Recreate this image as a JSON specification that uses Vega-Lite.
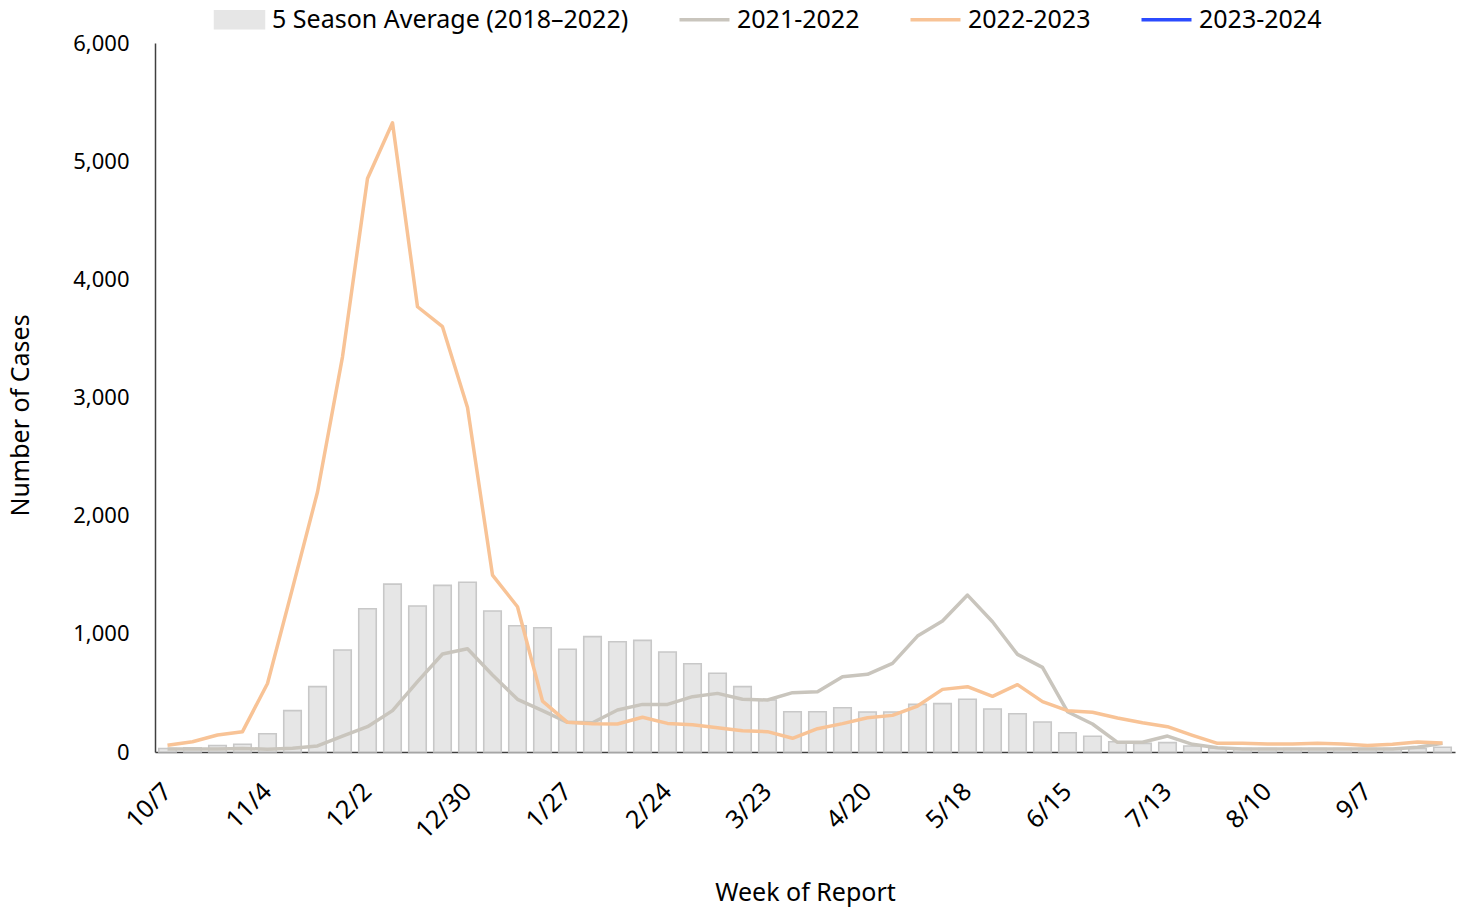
{
  "$schema": "https://vega.github.io/schema/vega-lite/v6.json",
  "width": 1300,
  "height": 709,
  "autosize": {"type": "none"},
  "padding": {"left": 155, "top": 43, "right": 10, "bottom": 159},
  "background": "white",
  "config": {
    "view": {"stroke": null},
    "font": "Noto Sans",
    "axis": {"domainColor": "#404040", "domainWidth": 1.5, "labelColor": "#000000", "titleColor": "#000000", "labelFont": "Noto Sans", "titleFont": "Noto Sans", "labelFontSize": 22, "titleFontSize": 25, "titleFontWeight": "normal", "grid": false, "ticks": false}
  },
  "datasets": {
    "avg": [
      {"week":"10/7","series":"5 Season Average (2018–2022)","cases":30},
      {"week":"10/14","series":"5 Season Average (2018–2022)","cases":36},
      {"week":"10/21","series":"5 Season Average (2018–2022)","cases":55},
      {"week":"10/28","series":"5 Season Average (2018–2022)","cases":65},
      {"week":"11/4","series":"5 Season Average (2018–2022)","cases":155},
      {"week":"11/11","series":"5 Season Average (2018–2022)","cases":350},
      {"week":"11/18","series":"5 Season Average (2018–2022)","cases":553},
      {"week":"11/25","series":"5 Season Average (2018–2022)","cases":863},
      {"week":"12/2","series":"5 Season Average (2018–2022)","cases":1212},
      {"week":"12/9","series":"5 Season Average (2018–2022)","cases":1421},
      {"week":"12/16","series":"5 Season Average (2018–2022)","cases":1235},
      {"week":"12/23","series":"5 Season Average (2018–2022)","cases":1410},
      {"week":"12/30","series":"5 Season Average (2018–2022)","cases":1436},
      {"week":"1/6","series":"5 Season Average (2018–2022)","cases":1193},
      {"week":"1/13","series":"5 Season Average (2018–2022)","cases":1069},
      {"week":"1/20","series":"5 Season Average (2018–2022)","cases":1052},
      {"week":"1/27","series":"5 Season Average (2018–2022)","cases":869},
      {"week":"2/3","series":"5 Season Average (2018–2022)","cases":976},
      {"week":"2/10","series":"5 Season Average (2018–2022)","cases":933},
      {"week":"2/17","series":"5 Season Average (2018–2022)","cases":945},
      {"week":"2/24","series":"5 Season Average (2018–2022)","cases":846},
      {"week":"3/2","series":"5 Season Average (2018–2022)","cases":747},
      {"week":"3/9","series":"5 Season Average (2018–2022)","cases":666},
      {"week":"3/16","series":"5 Season Average (2018–2022)","cases":553},
      {"week":"3/23","series":"5 Season Average (2018–2022)","cases":440},
      {"week":"3/30","series":"5 Season Average (2018–2022)","cases":341},
      {"week":"4/6","series":"5 Season Average (2018–2022)","cases":341},
      {"week":"4/13","series":"5 Season Average (2018–2022)","cases":375},
      {"week":"4/20","series":"5 Season Average (2018–2022)","cases":338},
      {"week":"4/27","series":"5 Season Average (2018–2022)","cases":338},
      {"week":"5/4","series":"5 Season Average (2018–2022)","cases":403},
      {"week":"5/11","series":"5 Season Average (2018–2022)","cases":409},
      {"week":"5/18","series":"5 Season Average (2018–2022)","cases":446},
      {"week":"5/25","series":"5 Season Average (2018–2022)","cases":364},
      {"week":"6/1","series":"5 Season Average (2018–2022)","cases":324},
      {"week":"6/8","series":"5 Season Average (2018–2022)","cases":254},
      {"week":"6/15","series":"5 Season Average (2018–2022)","cases":163},
      {"week":"6/22","series":"5 Season Average (2018–2022)","cases":133},
      {"week":"6/29","series":"5 Season Average (2018–2022)","cases":87},
      {"week":"7/6","series":"5 Season Average (2018–2022)","cases":73},
      {"week":"7/13","series":"5 Season Average (2018–2022)","cases":79},
      {"week":"7/20","series":"5 Season Average (2018–2022)","cases":51},
      {"week":"7/27","series":"5 Season Average (2018–2022)","cases":34},
      {"week":"8/3","series":"5 Season Average (2018–2022)","cases":30},
      {"week":"8/10","series":"5 Season Average (2018–2022)","cases":30},
      {"week":"8/17","series":"5 Season Average (2018–2022)","cases":30},
      {"week":"8/24","series":"5 Season Average (2018–2022)","cases":30},
      {"week":"8/31","series":"5 Season Average (2018–2022)","cases":30},
      {"week":"9/7","series":"5 Season Average (2018–2022)","cases":30},
      {"week":"9/14","series":"5 Season Average (2018–2022)","cases":30},
      {"week":"9/21","series":"5 Season Average (2018–2022)","cases":30},
      {"week":"9/28","series":"5 Season Average (2018–2022)","cases":40}
    ],
    "lines": [
      {"week":"10/7","series":"2021-2022","cases":25},
      {"week":"10/14","series":"2021-2022","cases":25},
      {"week":"10/21","series":"2021-2022","cases":25},
      {"week":"10/28","series":"2021-2022","cases":30},
      {"week":"11/4","series":"2021-2022","cases":23},
      {"week":"11/11","series":"2021-2022","cases":31},
      {"week":"11/18","series":"2021-2022","cases":51},
      {"week":"11/25","series":"2021-2022","cases":135},
      {"week":"12/2","series":"2021-2022","cases":214},
      {"week":"12/9","series":"2021-2022","cases":350},
      {"week":"12/16","series":"2021-2022","cases":595},
      {"week":"12/23","series":"2021-2022","cases":829},
      {"week":"12/30","series":"2021-2022","cases":874},
      {"week":"1/6","series":"2021-2022","cases":651},
      {"week":"1/13","series":"2021-2022","cases":446},
      {"week":"1/20","series":"2021-2022","cases":350},
      {"week":"1/27","series":"2021-2022","cases":251},
      {"week":"2/3","series":"2021-2022","cases":248},
      {"week":"2/10","series":"2021-2022","cases":355},
      {"week":"2/17","series":"2021-2022","cases":403},
      {"week":"2/24","series":"2021-2022","cases":403},
      {"week":"3/2","series":"2021-2022","cases":468},
      {"week":"3/9","series":"2021-2022","cases":496},
      {"week":"3/16","series":"2021-2022","cases":446},
      {"week":"3/23","series":"2021-2022","cases":440},
      {"week":"3/30","series":"2021-2022","cases":502},
      {"week":"4/6","series":"2021-2022","cases":510},
      {"week":"4/13","series":"2021-2022","cases":637},
      {"week":"4/20","series":"2021-2022","cases":657},
      {"week":"4/27","series":"2021-2022","cases":750},
      {"week":"5/4","series":"2021-2022","cases":981},
      {"week":"5/11","series":"2021-2022","cases":1108},
      {"week":"5/18","series":"2021-2022","cases":1328},
      {"week":"5/25","series":"2021-2022","cases":1102},
      {"week":"6/1","series":"2021-2022","cases":826},
      {"week":"6/8","series":"2021-2022","cases":716},
      {"week":"6/15","series":"2021-2022","cases":341},
      {"week":"6/22","series":"2021-2022","cases":237},
      {"week":"6/29","series":"2021-2022","cases":82},
      {"week":"7/6","series":"2021-2022","cases":82},
      {"week":"7/13","series":"2021-2022","cases":135},
      {"week":"7/20","series":"2021-2022","cases":65},
      {"week":"7/27","series":"2021-2022","cases":36},
      {"week":"8/3","series":"2021-2022","cases":25},
      {"week":"8/10","series":"2021-2022","cases":25},
      {"week":"8/17","series":"2021-2022","cases":25},
      {"week":"8/24","series":"2021-2022","cases":25},
      {"week":"8/31","series":"2021-2022","cases":25},
      {"week":"9/7","series":"2021-2022","cases":25},
      {"week":"9/14","series":"2021-2022","cases":25},
      {"week":"9/21","series":"2021-2022","cases":40},
      {"week":"9/28","series":"2021-2022","cases":73},
      {"week":"10/7","series":"2022-2023","cases":57},
      {"week":"10/14","series":"2022-2023","cases":87},
      {"week":"10/21","series":"2022-2023","cases":144},
      {"week":"10/28","series":"2022-2023","cases":172},
      {"week":"11/4","series":"2022-2023","cases":580},
      {"week":"11/11","series":"2022-2023","cases":1385},
      {"week":"11/18","series":"2022-2023","cases":2200},
      {"week":"11/25","series":"2022-2023","cases":3344},
      {"week":"12/2","series":"2022-2023","cases":4854},
      {"week":"12/9","series":"2022-2023","cases":5325},
      {"week":"12/16","series":"2022-2023","cases":3768},
      {"week":"12/23","series":"2022-2023","cases":3599},
      {"week":"12/30","series":"2022-2023","cases":2916},
      {"week":"1/6","series":"2022-2023","cases":1497},
      {"week":"1/13","series":"2022-2023","cases":1229},
      {"week":"1/20","series":"2022-2023","cases":431},
      {"week":"1/27","series":"2022-2023","cases":251},
      {"week":"2/3","series":"2022-2023","cases":240},
      {"week":"2/10","series":"2022-2023","cases":237},
      {"week":"2/17","series":"2022-2023","cases":294},
      {"week":"2/24","series":"2022-2023","cases":242},
      {"week":"3/2","series":"2022-2023","cases":231},
      {"week":"3/9","series":"2022-2023","cases":206},
      {"week":"3/16","series":"2022-2023","cases":180},
      {"week":"3/23","series":"2022-2023","cases":172},
      {"week":"3/30","series":"2022-2023","cases":116},
      {"week":"4/6","series":"2022-2023","cases":197},
      {"week":"4/13","series":"2022-2023","cases":240},
      {"week":"4/20","series":"2022-2023","cases":290},
      {"week":"4/27","series":"2022-2023","cases":310},
      {"week":"5/4","series":"2022-2023","cases":389},
      {"week":"5/11","series":"2022-2023","cases":530},
      {"week":"5/18","series":"2022-2023","cases":553},
      {"week":"5/25","series":"2022-2023","cases":471},
      {"week":"6/1","series":"2022-2023","cases":570},
      {"week":"6/8","series":"2022-2023","cases":426},
      {"week":"6/15","series":"2022-2023","cases":350},
      {"week":"6/22","series":"2022-2023","cases":336},
      {"week":"6/29","series":"2022-2023","cases":288},
      {"week":"7/6","series":"2022-2023","cases":248},
      {"week":"7/13","series":"2022-2023","cases":214},
      {"week":"7/20","series":"2022-2023","cases":141},
      {"week":"7/27","series":"2022-2023","cases":73},
      {"week":"8/3","series":"2022-2023","cases":73},
      {"week":"8/10","series":"2022-2023","cases":68},
      {"week":"8/17","series":"2022-2023","cases":68},
      {"week":"8/24","series":"2022-2023","cases":73},
      {"week":"8/31","series":"2022-2023","cases":68},
      {"week":"9/7","series":"2022-2023","cases":54},
      {"week":"9/14","series":"2022-2023","cases":65},
      {"week":"9/21","series":"2022-2023","cases":85},
      {"week":"9/28","series":"2022-2023","cases":76}
    ]
  },
  "encoding": {
    "x": {
      "field": "week", "type": "ordinal",
      "scale": {
        "domain": ["10/7","10/14","10/21","10/28","11/4","11/11","11/18","11/25","12/2","12/9","12/16","12/23","12/30","1/6","1/13","1/20","1/27","2/3","2/10","2/17","2/24","3/2","3/9","3/16","3/23","3/30","4/6","4/13","4/20","4/27","5/4","5/11","5/18","5/25","6/1","6/8","6/15","6/22","6/29","7/6","7/13","7/20","7/27","8/3","8/10","8/17","8/24","8/31","9/7","9/14","9/21","9/28"],
        "paddingInner": 0.3, "paddingOuter": 0.15
      },
      "axis": {
        "title": "Week of Report",
        "values": ["10/7","11/4","12/2","12/30","1/27","2/24","3/23","4/20","5/18","6/15","7/13","8/10","9/7"],
        "labelAngle": -45, "labelAlign": "right", "labelBaseline": "middle", "labelPadding": 35, "labelFontSize": 25,
        "titleY": 140, "titleBaseline": "middle"
      }
    },
    "y": {
      "field": "cases", "type": "quantitative",
      "scale": {"domain": [0, 6000], "nice": false},
      "axis": {
        "title": "Number of Cases",
        "values": [0, 1000, 2000, 3000, 4000, 5000, 6000],
        "format": ",.0f",
        "labelPadding": 26,
        "titleX": -135, "titleY": 372, "titleAngle": -90, "titleBaseline": "middle", "titleAlign": "center"
      }
    },
    "color": {
      "field": "series", "type": "nominal",
      "scale": {
        "domain": ["5 Season Average (2018–2022)", "2021-2022", "2022-2023", "2023-2024"],
        "range": ["#E6E6E6", "#C9C5BD", "#F8C396", "#2B4BFF"]
      },
      "legend": {
        "title": null,
        "orient": "none",
        "direction": "horizontal",
        "legendX": 72,
        "legendY": -36,
        "labelFontSize": 25,
        "labelFont": "Noto Sans",
        "labelColor": "#000000",
        "labelLimit": 0,
        "labelOffset": 20,
        "columnPadding": 43,
        "symbolSize": 2500,
        "symbolStrokeWidth": 3.5,
        "encode": {
          "symbols": {
            "update": {
              "shape": {"signal": "datum.value === '5 Season Average (2018–2022)' ? 'M-1,-0.36H1V0.36H-1Z' : 'stroke'"},
              "fill": {"signal": "datum.value === '5 Season Average (2018–2022)' ? '#E6E6E6' : 'transparent'"},
              "stroke": {"signal": "datum.value === '5 Season Average (2018–2022)' ? '#CCCCCC' : (datum.value === '2021-2022' ? '#C9C5BD' : (datum.value === '2022-2023' ? '#F8C396' : '#2B4BFF'))"},
              "strokeWidth": {"signal": "datum.value === '5 Season Average (2018–2022)' ? 1.5 : 3.5"},
              "opacity": {"value": 1}
            }
          }
        }
      }
    }
  },
  "layer": [
    {
      "data": {"name": "avg"},
      "mark": {"type": "bar", "stroke": "#C8C8C8", "strokeWidth": 1.6, "opacity": 1}
    },
    {
      "data": {"name": "lines"},
      "mark": {"type": "line", "strokeWidth": 3.5, "strokeJoin": "round"}
    }
  ]
}
